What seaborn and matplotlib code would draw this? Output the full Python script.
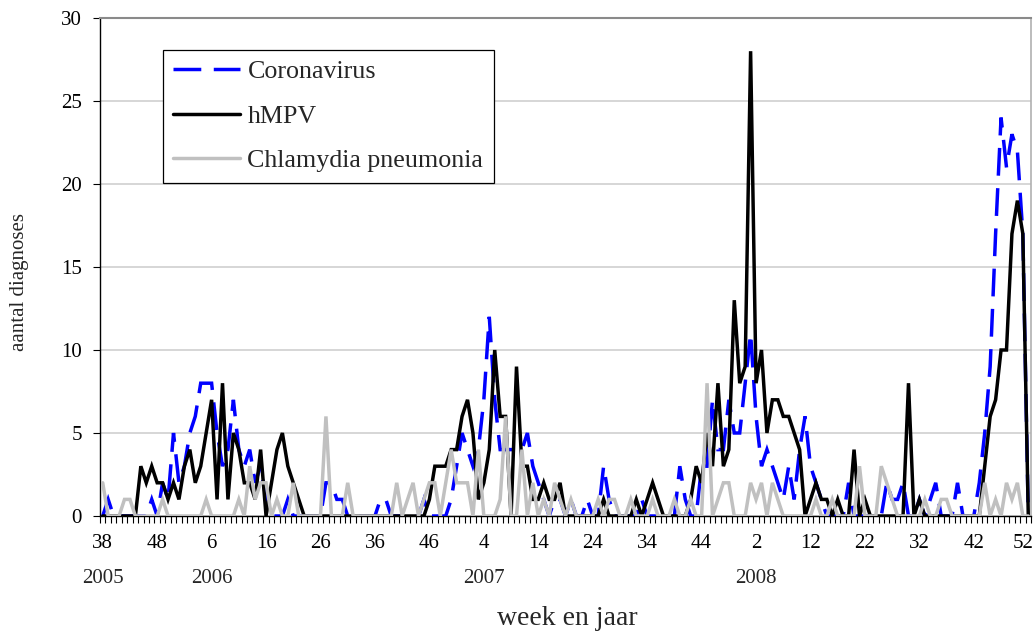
import numpy as np
import pandas as pd
import matplotlib
matplotlib.use("Agg")
import matplotlib.pyplot as plt
import seaborn as sns
from matplotlib.transforms import blended_transform_factory, ScaledTranslation

# Weekly number of diagnoses, week 38 of 2005 through week 52 of 2008 (171 weeks)
coronavirus = [
    0, 1, 0, 0, 0, 0, 0, 0, 0, 1,
    0, 2, 1, 5, 2, 3, 5, 6, 8, 8,
    8, 5, 3, 4, 7, 4, 3, 4, 2, 3,
    1, 0, 0, 0, 1, 0, 0, 0, 0, 0,
    0, 2, 2, 1, 1, 0, 0, 0, 0, 0,
    0, 1, 1, 0, 0, 0, 0, 0, 0, 1,
    0, 0, 0, 0, 1, 3, 5, 4, 3, 4,
    7, 12, 7, 4, 4, 4, 4, 4, 5, 3,
    2, 1, 0, 1, 1, 0, 1, 0, 0, 1,
    0, 0, 3, 1, 0, 0, 0, 0, 0, 1,
    0, 0, 0, 0, 0, 0, 3, 1, 0, 0,
    3, 3, 7, 4, 4, 7, 5, 5, 8, 11,
    6, 3, 4, 3, 2, 1, 3, 1, 4, 6,
    3, 2, 1, 0, 0, 0, 0, 2, 0, 0,
    0, 0, 0, 0, 2, 1, 1, 2, 0, 0,
    1, 0, 1, 2, 0, 0, 0, 2, 0, 0,
    0, 2, 5, 9, 17, 24, 21, 23, 22, 17,
    0,
]

hmpv = [
    0, 0, 0, 0, 0, 0, 0, 3, 2, 3,
    2, 2, 1, 2, 1, 3, 4, 2, 3, 5,
    7, 1, 8, 1, 5, 4, 2, 2, 1, 4,
    0, 2, 4, 5, 3, 2, 1, 0, 0, 0,
    0, 0, 0, 0, 0, 0, 0, 0, 0, 0,
    0, 0, 0, 0, 0, 0, 0, 0, 0, 0,
    1, 3, 3, 3, 4, 4, 6, 7, 5, 1,
    2, 4, 10, 6, 6, 0, 9, 3, 3, 1,
    1, 2, 1, 1, 2, 0, 0, 0, 0, 0,
    0, 0, 1, 0, 0, 0, 0, 0, 1, 0,
    1, 2, 1, 0, 0, 0, 0, 0, 1, 3,
    2, 5, 3, 8, 3, 4, 13, 8, 9, 28,
    8, 10, 5, 7, 7, 6, 6, 5, 4, 0,
    1, 2, 1, 1, 0, 1, 0, 0, 4, 0,
    1, 0, 0, 0, 0, 0, 0, 0, 8, 0,
    1, 0, 0, 0, 0, 0, 0, 0, 0, 0,
    0, 0, 3, 6, 7, 10, 10, 17, 19, 17,
    0,
]

chlamydia = [
    2, 0, 0, 0, 1, 1, 0, 0, 0, 0,
    0, 1, 0, 0, 0, 0, 0, 0, 0, 1,
    0, 0, 0, 0, 0, 1, 0, 3, 1, 2,
    2, 0, 1, 0, 0, 2, 0, 0, 0, 0,
    0, 6, 0, 0, 0, 2, 0, 0, 0, 0,
    0, 0, 0, 0, 2, 0, 1, 2, 0, 1,
    2, 2, 0, 2, 4, 2, 2, 2, 0, 4,
    0, 0, 0, 1, 6, 0, 0, 4, 0, 2,
    0, 1, 0, 2, 1, 0, 1, 0, 0, 0,
    0, 1, 0, 1, 1, 0, 0, 1, 0, 0,
    0, 1, 0, 0, 0, 1, 0, 0, 1, 0,
    0, 8, 0, 1, 2, 2, 0, 0, 0, 2,
    1, 2, 0, 2, 1, 0, 0, 0, 0, 0,
    0, 1, 0, 0, 1, 0, 0, 0, 0, 3,
    0, 0, 0, 3, 2, 1, 0, 0, 0, 0,
    0, 1, 0, 0, 1, 1, 0, 0, 0, 0,
    0, 0, 2, 0, 1, 0, 2, 1, 2, 0,
    0,
]

# Labelled weeks (every 10th week) and the year shown under the first label of each year
tick_weeks = [38, 48, 6, 16, 26, 36, 46, 4, 14, 24, 34, 44, 2, 12, 22, 32, 42, 52]
years = ["2005", "2006", "2007", "2008"]
year_tick_index = [0, 2, 7, 12]

series_names = ["Coronavirus", "hMPV", "Chlamydia pneumonia"]
series_colors = ["#0000FF", "#000000", "#C0C0C0"]

n_weeks = len(hmpv)
df = pd.DataFrame({
    "week": np.arange(n_weeks),
    "Coronavirus": coronavirus,
    "hMPV": hmpv,
    "Chlamydia pneumonia": chlamydia,
})

sns.set_style("white")
plt.rcParams["font.family"] = ["Liberation Serif", "DejaVu Serif"]

fig = plt.figure(figsize=(10.35, 6.32), dpi=100)
ax = fig.add_axes([100 / 1035, 1 - 516 / 632, 931 / 1035, 498 / 632])

for name, color in zip(series_names, series_colors):
    sns.lineplot(data=df, x="week", y=name, ax=ax, color=color,
                 linewidth=2.5, label=name, zorder=3)
ax.lines[0].set_dashes([8, 3.6])
for ln in ax.lines:
    ln.set_solid_joinstyle("miter")
    ln.set_dash_joinstyle("miter")

# Axes ranges and ticks
ax.set_xlim(-0.5, n_weeks - 0.5)
ax.set_ylim(0, 30)
ax.set_yticks(range(0, 31, 5))
tick_pos = np.arange(0, n_weeks, 10)
ax.set_xticks(tick_pos)
ax.set_xticklabels([str(w) for w in tick_weeks])
ax.set_xticks(np.arange(-0.5, n_weeks, 1), minor=True)
ax.tick_params(axis="x", which="major", length=0, pad=13, labelsize=15, colors="black")
ax.tick_params(axis="x", which="minor", length=5, width=0.8, direction="out",
               color="black", bottom=True)
ax.tick_params(axis="y", which="major", length=5, width=0.8, direction="out",
               left=True, pad=8, labelsize=15, colors="black")

# keep the last week label inside the figure
last = ax.get_xticklabels()[-1]
last.set_transform(last.get_transform() + ScaledTranslation(-5 / 100, 0, fig.dpi_scale_trans))

ax.yaxis.grid(True, color="#cfcfcf", linewidth=1.2)
ax.xaxis.grid(False)
ax.set_axisbelow(True)

for side in ("left", "bottom"):
    ax.spines[side].set_color("black")
    ax.spines[side].set_linewidth(1.0)
ax.spines["top"].set_color("#8a8a8a")
ax.spines["top"].set_linewidth(1.5)
ax.spines["right"].set_color("#b0b0b0")
ax.spines["right"].set_linewidth(1.2)

# Year row below the week labels
trans = blended_transform_factory(ax.transData, ax.transAxes)
for yr, idx in zip(years, year_tick_index):
    ax.text(tick_pos[idx], -0.125, yr, transform=trans, ha="center", va="center",
            fontsize=15)

ax.set_xlabel("week en jaar", fontsize=20)
ax.xaxis.set_label_coords(0.5016, -0.205)
ax.xaxis.label.set_va("center")
ax.set_ylabel("aantal diagnoses", fontsize=15)
ax.yaxis.set_label_coords(-0.086, 0.47)
ax.yaxis.label.set_va("center")

leg = ax.legend(loc="upper left", bbox_to_anchor=(0.0677, 0.936), borderaxespad=0,
                frameon=True, fancybox=False, framealpha=1, edgecolor="black",
                fontsize=18.7, handlelength=2.55, handletextpad=0.3,
                labelspacing=0.82, borderpad=0.4)
leg.get_frame().set_linewidth(0.9)

fig.savefig("out.png", dpi=100)
